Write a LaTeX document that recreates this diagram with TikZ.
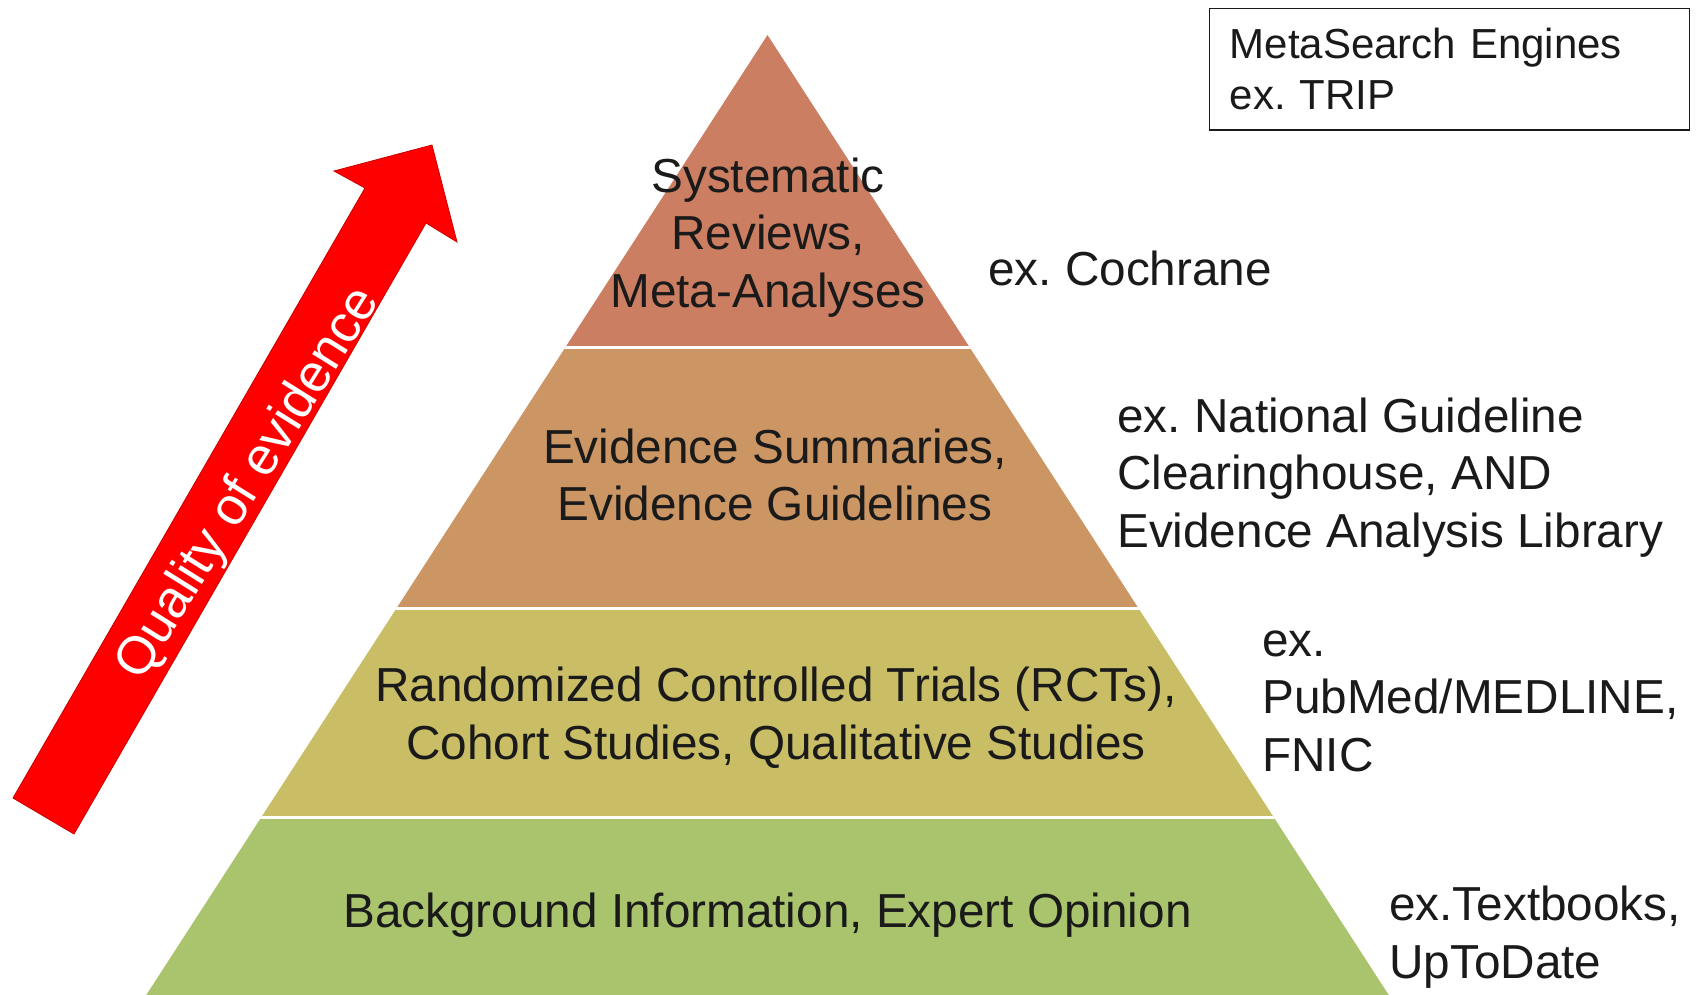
\documentclass[tikz,border=0pt]{standalone}
\usepackage{fontspec}
\setmainfont{Liberation Sans}
\definecolor{tierone}{RGB}{203,126,97}
\definecolor{tiertwo}{RGB}{203,149,100}
\definecolor{tierthree}{RGB}{201,189,102}
\definecolor{tierfour}{RGB}{169,196,109}
\definecolor{ink}{RGB}{26,26,26}
\newcommand{\tiertext}{\fontsize{47.7}{57.5}\selectfont}
\frenchspacing

\begin{document}
\begin{tikzpicture}[x=1pt,y=-1pt,
  tier/.style={font=\tiertext,text=ink,align=center,inner sep=0pt},
  example/.style={font=\tiertext,text=ink,align=left,anchor=west,inner sep=0pt}]
  \useasboundingbox (0,0) rectangle (1698,994);
  % pyramid, cut in four bands
  \begin{scope}
    \clip (767.5,35) -- (143,1000) -- (1392,1000) -- cycle;
    \fill[tierone] (0,0) rectangle (1698,347.5);
    \fill[tiertwo] (0,347.5) rectangle (1698,608);
    \fill[tierthree] (0,608) rectangle (1698,817.5);
    \fill[tierfour] (0,817.5) rectangle (1698,1000);
    \foreach \y in {347.5,608,817.5}
      \draw[white,line width=3pt] (0,\y) -- (1698,\y); %gaps
  \end{scope}
  % red arrow
  \fill[red,draw=red!80!black,line width=0.8pt] (13,798) -- (365,188) -- (334,171)
    -- (432,145) -- (457,242) -- (426,223) -- (74,834) -- cycle;
  \node[white,font=\fontsize{53}{60}\selectfont,rotate=58,inner sep=0pt] (quality) at (249,484) {Quality of evidence};
  % levels
  \node[tier] (sr) at (768,237.2) {Systematic\\Reviews,\\Meta-Analyses};
  \node[tier] (es) at (775,474.7) {Evidence Summaries,\\Evidence Guidelines};
  \node[tier] (rct) at (776,717.6) {Randomized Controlled Trials (RCTs),\\Cohort Studies, Qualitative Studies};
  \node[tier] (bg) at (767.5,914.7) {Background Information, Expert Opinion};
  % sources
  \node[example] (cochrane) at (988,268.7) {ex. Cochrane};
  \node[example] (ngc) at (1117,477.2) {ex. National Guideline\\Clearinghouse, AND\\Evidence Analysis Library};
  \node[example] (pubmed) at (1262,700.9) {ex.\\PubMed/MEDLINE,\\FNIC};
  \node[example] (textbooks) at (1389,937.2) {ex.Textbooks,\\UpToDate};
  \node[draw=ink,line width=1.5pt,anchor=north west,text width=439pt,align=left,
    inner xsep=20.5pt,inner ysep=20pt,font=\fontsize{42}{51}\selectfont,text=ink] (meta)
    at (1208.5,7.5) {MetaSearch Engines\\ex. TRIP};
\end{tikzpicture}
\end{document}
